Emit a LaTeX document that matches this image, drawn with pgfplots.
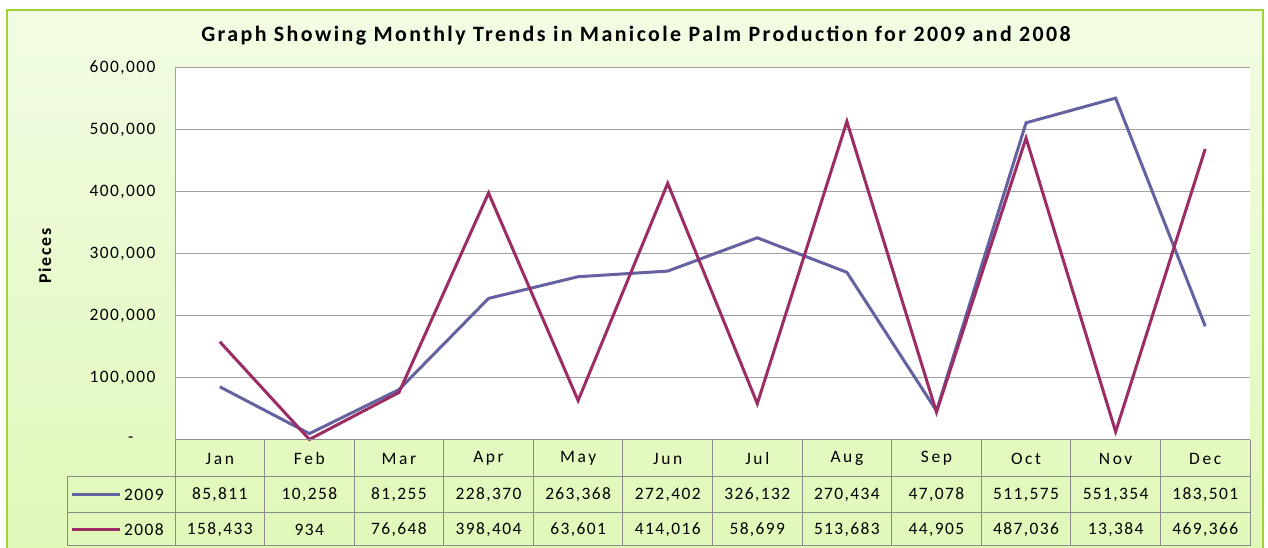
\documentclass[border=0pt]{standalone}
\usepackage{pgfplots}
\pgfplotsset{compat=1.18}
\usepackage{fontspec}
\setmainfont{Carlito}
\definecolor{cA}{RGB}{100,98,160}
\definecolor{cB}{RGB}{155,45,100}
\definecolor{bgTop}{RGB}{242,252,228}
\definecolor{bgBot}{RGB}{224,248,184}
\definecolor{frame}{RGB}{160,212,50}
\definecolor{gridc}{RGB}{160,160,160}
\definecolor{tblc}{RGB}{140,140,140}
\pgfplotstableread{
x y2009 y2008
0 85811 158433
1 10258 934
2 81255 76648
3 228370 398404
4 263368 63601
5 272402 414016
6 326132 58699
7 270434 513683
8 47078 44905
9 511575 487036
10 551354 13384
11 183501 469366
}\datatable
\newcommand{\lbl}{\fontsize{17.5}{20}\selectfont\addfontfeature{LetterSpace=8}}
\newcommand{\mlbl}{\fontsize{17.5}{20}\selectfont\addfontfeature{LetterSpace=15}}
\begin{document}
\begin{tikzpicture}[x=1bp,y=1bp]
\useasboundingbox (0,0) rectangle (1268,548);
\fill[white] (0,0) rectangle (1268,548);
\shade[top color=bgTop,bottom color=bgBot] (7,0) rectangle (1263,538);
\draw[frame, line width=1.5bp] (7,-2) -- (7,538) -- (1263,538) -- (1263,-2);
\node[font={\fontsize{22}{26}\selectfont\bfseries\addfontfeature{LetterSpace=11}}] at (636,512) {Graph Showing Monthly Trends in Manicole Palm Production for 2009 and 2008};
\node[rotate=90, font={\fontsize{18}{22}\selectfont\bfseries\addfontfeature{LetterSpace=10}}] at (45,292) {Pieces};
\begin{axis}[
  at={(175bp,108bp)}, anchor=south west,
  width=1075bp, height=372bp, scale only axis,
  xmin=-0.5, xmax=11.5, ymin=0, ymax=600000,
  xtick=\empty,
  scaled y ticks=false,
  ytick={0,100000,200000,300000,400000,500000,600000},
  yticklabels={{-\hspace*{22bp}},{100,000},{200,000},{300,000},{400,000},{500,000},{600,000}},
  yticklabel style={font=\lbl, anchor=east, xshift=-16bp},
  major tick length=0pt,
  ymajorgrids, grid style={gridc, line width=1bp},
  axis line style={draw=none},
  axis background/.style={fill=white},
  clip=false,
]
\addplot[cA, line width=3bp] table[x=x, y=y2009] {\datatable};
\addplot[cB, line width=3bp] table[x=x, y=y2008] {\datatable};
\end{axis}
% axis left line
\draw[gridc, line width=1bp] (175,108) -- (175,480);
% table
\def\cw{89.5833}
\draw[tblc, line width=1bp] (175,108) -- (1250,108);
\draw[tblc, line width=1bp] (67,71) -- (1250,71);
\draw[tblc, line width=1bp] (67,35) -- (1250,35);
\draw[tblc, line width=1bp] (67,2) -- (1250,2);
\draw[tblc, line width=1bp] (67,71) -- (67,2);
\foreach \k in {0,...,12} {\draw[tblc, line width=1bp] (175+\k*\cw,108) -- (175+\k*\cw,2);}
\foreach \m [count=\i from 0] in {Jan,Feb,Mar,Apr,May,Jun,Jul,Aug,Sep,Oct,Nov,Dec}
  {\node[font=\mlbl] at (175+\i*\cw+0.5*\cw,89.5) {\m};}
\foreach \v [count=\i from 0] in {85{,}811,10{,}258,81{,}255,228{,}370,263{,}368,272{,}402,326{,}132,270{,}434,47{,}078,511{,}575,551{,}354,183{,}501}
  {\node[font=\lbl] at (175+\i*\cw+0.5*\cw,53) {\v};}
\foreach \v [count=\i from 0] in {158{,}433,934,76{,}648,398{,}404,63{,}601,414{,}016,58{,}699,513{,}683,44{,}905,487{,}036,13{,}384,469{,}366}
  {\node[font=\lbl] at (175+\i*\cw+0.5*\cw,18.5) {\v};}
\draw[cA, line width=3bp] (72,53) -- (120,53);
\draw[cB, line width=3bp] (72,18.5) -- (120,18.5);
\node[font=\lbl, anchor=west, inner sep=0pt] at (124,53) {2009};
\node[font=\lbl, anchor=west, inner sep=0pt] at (124,18.5) {2008};
\end{tikzpicture}
\end{document}
